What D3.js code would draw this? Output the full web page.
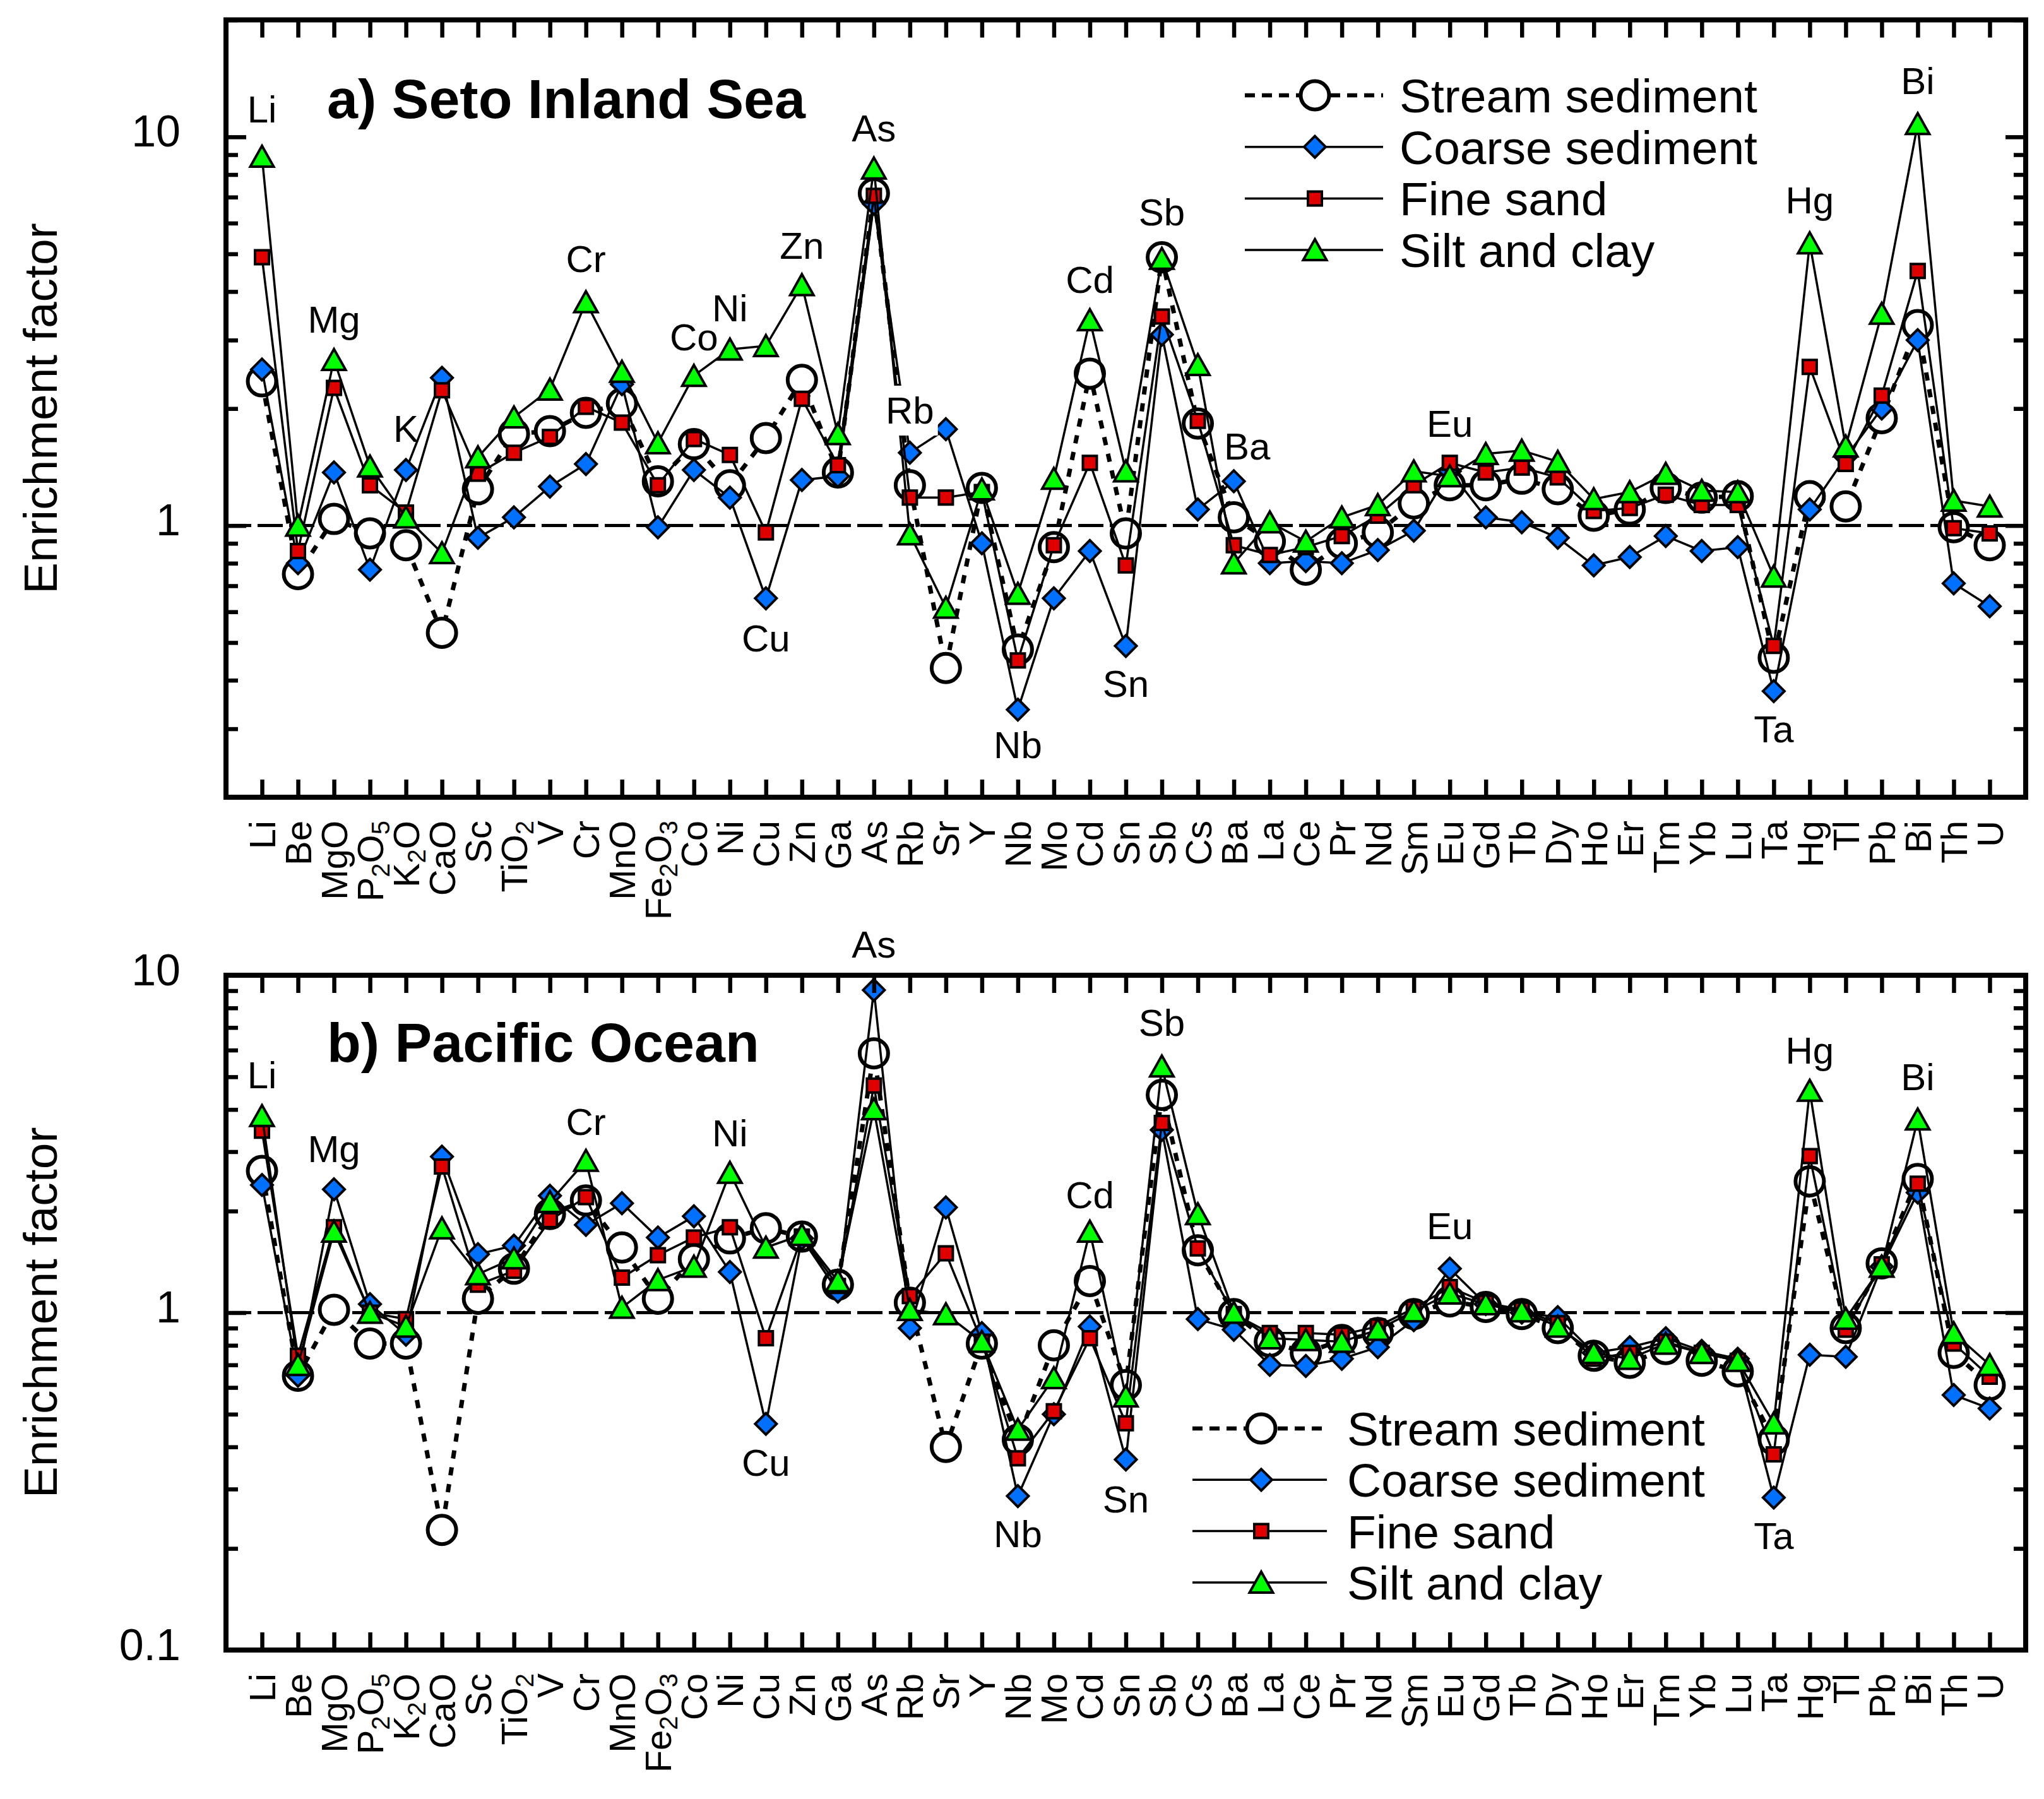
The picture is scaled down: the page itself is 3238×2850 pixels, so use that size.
<!DOCTYPE html>
<html>
<head>
<meta charset="utf-8">
<script src="https://cdn.jsdelivr.net/npm/d3@7"></script>
<style>
  body { margin: 0; background: #fff; }
  text { font-family: "Liberation Sans", Arial, sans-serif; fill: #000; }
</style>
</head>
<body>
<svg id="chart"></svg>
<script>
const W = 3238, H = 2850

// categories on the x axis (digits are drawn as subscripts)
const categories = ['Li', 'Be', 'MgO', 'P2O5', 'K2O', 'CaO', 'Sc', 'TiO2', 'V', 'Cr', 'MnO', 'Fe2O3',
    'Co', 'Ni', 'Cu', 'Zn', 'Ga', 'As', 'Rb', 'Sr', 'Y', 'Nb', 'Mo', 'Cd', 'Sn', 'Sb', 'Cs', 'Ba',
    'La', 'Ce', 'Pr', 'Nd', 'Sm', 'Eu', 'Gd', 'Tb', 'Dy', 'Ho', 'Er', 'Tm', 'Yb', 'Lu', 'Ta', 'Hg',
    'Tl', 'Pb', 'Bi', 'Th', 'U']

const seriesNames = ['Stream sediment', 'Coarse sediment', 'Fine sand', 'Silt and clay']

// a) Seto Inland Sea
const setoStream = [2.35, 0.75, 1.04, 0.955, 0.89, 0.53, 1.24, 1.72, 1.75, 1.95, 2.06, 1.30,
    1.62, 1.27, 1.68, 2.37, 1.37, 7.16, 1.27, 0.43, 1.25, 0.48, 0.88, 2.46, 0.955, 4.9, 1.83, 1.05,
    0.91, 0.77, 0.90, 0.96, 1.14, 1.27, 1.27, 1.32, 1.24, 1.06, 1.10, 1.25, 1.18, 1.19, 0.457, 1.19,
    1.12, 1.89, 3.28, 0.99, 0.89]
const setoCoarse = [2.52, 0.80, 1.37, 0.77, 1.39, 2.40, 0.93, 1.05, 1.26, 1.44, 2.31, 0.99,
    1.39, 1.18, 0.65, 1.31, 1.34, 6.73, 1.54, 1.77, 0.90, 0.336, 0.65, 0.86, 0.49, 3.10, 1.10, 1.30,
    0.80, 0.81, 0.80, 0.865, 0.97, 1.38, 1.05, 1.02, 0.93, 0.79, 0.83, 0.94, 0.86, 0.88, 0.375, 1.10,
    1.50, 2.00, 3.00, 0.71, 0.62]
const setoFine = [4.9, 0.86, 2.26, 1.27, 1.08, 2.23, 1.36, 1.54, 1.69, 2.02, 1.84, 1.27,
    1.67, 1.52, 0.96, 2.12, 1.43, 7.05, 1.18, 1.18, 1.22, 0.45, 0.89, 1.45, 0.79, 3.45, 1.86, 0.89,
    0.84, 0.88, 0.94, 1.06, 1.27, 1.45, 1.37, 1.41, 1.33, 1.09, 1.11, 1.20, 1.13, 1.13, 0.49, 2.56,
    1.44, 2.16, 4.52, 0.985, 0.955]
const setoSilt = [8.9, 1.0, 2.67, 1.42, 1.05, 0.85, 1.50, 1.90, 2.24, 3.76, 2.49, 1.63,
    2.43, 2.84, 2.90, 4.16, 1.72, 8.3, 0.95, 0.615, 1.24, 0.668, 1.32, 3.38, 1.38, 4.86, 2.59, 0.80,
    1.02, 0.91, 1.05, 1.13, 1.38, 1.34, 1.53, 1.56, 1.46, 1.17, 1.22, 1.36, 1.23, 1.22, 0.74, 5.33,
    1.60, 3.51, 10.8, 1.16, 1.12]

// b) Pacific Ocean
const pacStream = [2.63, 0.65, 1.02, 0.81, 0.81, 0.227, 1.10, 1.35, 1.96, 2.15, 1.56, 1.10,
    1.44, 1.66, 1.78, 1.68, 1.21, 5.87, 1.07, 0.40, 0.81, 0.42, 0.80, 1.24, 0.61, 4.42, 1.53, 0.99,
    0.82, 0.76, 0.83, 0.87, 0.99, 1.08, 1.04, 0.99, 0.90, 0.745, 0.71, 0.78, 0.72, 0.67, 0.42, 2.45,
    0.90, 1.40, 2.49, 0.76, 0.61]
const pacCoarse = [2.39, 0.65, 2.32, 1.06, 0.86, 2.90, 1.49, 1.58, 2.22, 1.82, 2.11, 1.67,
    1.93, 1.32, 0.468, 1.66, 1.155, 9.04, 0.90, 2.05, 0.87, 0.286, 0.50, 0.91, 0.367, 3.48, 0.957, 0.89,
    0.70, 0.695, 0.73, 0.79, 0.95, 1.35, 1.06, 1.0, 0.97, 0.76, 0.79, 0.84, 0.77, 0.73, 0.283, 0.75,
    0.74, 1.37, 2.27, 0.57, 0.52]
const pacFine = [3.46, 0.745, 1.79, 1.0, 0.957, 2.71, 1.21, 1.33, 1.88, 2.20, 1.27, 1.48,
    1.67, 1.79, 0.84, 1.68, 1.2, 4.71, 1.12, 1.50, 0.82, 0.37, 0.51, 0.84, 0.47, 3.65, 1.55, 0.99,
    0.87, 0.87, 0.86, 0.91, 1.03, 1.19, 1.07, 1.02, 0.93, 0.73, 0.76, 0.82, 0.76, 0.72, 0.38, 2.91,
    0.89, 1.39, 2.41, 0.81, 0.646]
const pacSilt = [3.83, 0.70, 1.74, 1.0, 0.91, 1.78, 1.30, 1.45, 2.13, 2.82, 1.035, 1.25,
    1.37, 2.60, 1.56, 1.70, 1.24, 4.01, 1.02, 0.99, 0.82, 0.45, 0.64, 1.74, 0.565, 5.37, 1.96, 1.0,
    0.84, 0.83, 0.82, 0.89, 1.01, 1.14, 1.06, 1.01, 0.91, 0.76, 0.73, 0.81, 0.76, 0.72, 0.47, 4.55,
    0.96, 1.37, 3.74, 0.87, 0.70]

// element notes: [text, category, value at baseline, category offset]
const setoNotes = [['Li', 'Li', 10.9], ['Mg', 'MgO', 3.14], ['K', 'K2O', 1.64], ['Cr', 'Cr', 4.49],
    ['Co', 'Co', 2.82], ['Ni', 'Ni', 3.35], ['Zn', 'Zn', 4.86], ['As', 'As', 9.74], ['Rb', 'Rb', 1.83],
    ['Cu', 'Cu', 0.475], ['Nb', 'Nb', 0.252], ['Cd', 'Cd', 3.97], ['Sn', 'Sn', 0.362], ['Sb', 'Sb', 5.93],
    ['Ba', 'Ba', 1.48, 0.37], ['Eu', 'Eu', 1.69], ['Hg', 'Hg', 6.36], ['Bi', 'Bi', 12.9], ['Ta', 'Ta', 0.277]]
const pacNotes = [['Li', 'Li', 4.62], ['Mg', 'MgO', 2.79], ['Cr', 'Cr', 3.36], ['Ni', 'Ni', 3.11],
    ['Cu', 'Cu', 0.328], ['As', 'As', 11.3], ['Cd', 'Cd', 2.04], ['Nb', 'Nb', 0.202], ['Sn', 'Sn', 0.256],
    ['Sb', 'Sb', 6.61], ['Eu', 'Eu', 1.65], ['Hg', 'Hg', 5.47], ['Bi', 'Bi', 4.57], ['Ta', 'Ta', 0.199]]
// notes that sit on a white box and hide the lines behind them
const boxedNotes = ['Rb']

const colors = { coarse: '#0070ff', fine: '#e00000', silt: '#00ff00' }

const svg = d3.select('#chart')
    .attr('width', W)
    .attr('height', H)
    .attr('viewBox', `0 0 ${W} ${H}`)

const x = d3.scaleLinear()
    .domain([0, categories.length + 1])
    .range([358, 3209])

const panels = [
    {
        title: 'a) Seto Inland Sea', titleY: 187,
        domain: [0.2, 20], top: 31.5, bottom: 1263,
        series: [setoStream, setoCoarse, setoFine, setoSilt],
        notes: setoNotes,
        legend: { x1: 1972, x2: 2191, xm: 2083, xt: 2217, y0: 151, dy: 81.7 }
    },
    {
        title: 'b) Pacific Ocean', titleY: 1682,
        domain: [0.1, 10], top: 1545, bottom: 2614,
        series: [pacStream, pacCoarse, pacFine, pacSilt],
        notes: pacNotes,
        legend: { x1: 1889, x2: 2102, xm: 1998, xt: 2134, y0: 2263, dy: 81.3 }
    }
]

const styles = [
    { marker: 'circle', fill: '#fff', dash: '13,14', width: 7 },
    { marker: 'diamond', fill: colors.coarse, dash: null, width: 3.5 },
    { marker: 'square', fill: colors.fine, dash: null, width: 3.5 },
    { marker: 'triangle', fill: colors.silt, dash: null, width: 3.5 }
]

panels.forEach(drawPanel)

function drawMarker(sel, type, fill) {
    if (type === 'circle') {
        sel.append('circle').attr('r', 22.5)
            .attr('fill', fill).attr('stroke', '#000').attr('stroke-width', 6)
        return
    }
    let p
    if (type === 'diamond') p = 'M0,-17L17,0L0,17L-17,0Z'
    if (type === 'square') p = 'M-11,-11H11V11H-11Z'
    if (type === 'triangle') p = 'M0,-17L18.5,16H-18.5Z'
    sel.append('path').attr('d', p)
        .attr('fill', fill).attr('stroke', '#000').attr('stroke-width', 4)
        .attr('stroke-linejoin', 'miter')
}

function drawPanel(cfg) {
    const g = svg.append('g')
    const y = d3.scaleLog().domain(cfg.domain).range([cfg.bottom, cfg.top])
    const [x0, x1] = x.range()

    // reference line at 1
    g.append('line')
        .attr('x1', x0).attr('x2', x1)
        .attr('y1', y(1)).attr('y2', y(1))
        .attr('stroke', '#000').attr('stroke-width', 5)
        .attr('stroke-dasharray', '40,10')

    // series: line then markers, one after another
    const line = d3.line().x((d, i) => x(i + 1)).y(d => y(d))
    cfg.series.forEach((vals, k) => {
        const st = styles[k]
        g.append('path')
            .datum(vals)
            .attr('d', line)
            .attr('fill', 'none')
            .attr('stroke', '#000')
            .attr('stroke-width', st.width)
            .attr('stroke-dasharray', st.dash)
        g.append('g').selectAll('g')
            .data(vals)
            .join('g')
            .attr('transform', (d, i) => `translate(${x(i + 1)},${y(d)})`)
            .each(function () { drawMarker(d3.select(this), st.marker, st.fill) })
    })

    // axes with inward ticks
    const ticks = y.ticks()
    const isMajor = v => Math.abs(Math.log10(v) - Math.round(Math.log10(v))) < 1e-6
    const majors = ticks.filter(isMajor)
    const minors = ticks.filter(v => !isMajor(v))
    const catIdx = d3.range(1, categories.length + 1)

    const axes = g.append('g')
    axes.append('g').attr('transform', `translate(0,${cfg.bottom})`)
        .call(d3.axisBottom(x).tickValues(catIdx).tickSize(-28).tickFormat(''))
    axes.append('g').attr('transform', `translate(0,${cfg.top})`)
        .call(d3.axisTop(x).tickValues(catIdx).tickSize(-28).tickFormat(''))
    axes.append('g').attr('transform', `translate(${x0},0)`)
        .call(d3.axisLeft(y).tickValues(minors).tickSize(-19).tickFormat(''))
    axes.append('g').attr('transform', `translate(${x1},0)`)
        .call(d3.axisRight(y).tickValues(minors).tickSize(-19).tickFormat(''))
    axes.append('g').attr('transform', `translate(${x1},0)`)
        .call(d3.axisRight(y).tickValues(majors).tickSize(-32).tickFormat(''))
    const left = axes.append('g').attr('transform', `translate(${x0},0)`)
        .call(d3.axisLeft(y).tickValues(majors).tickSize(-32).tickPadding(72)
            .tickFormat(d => d >= 1 ? d3.format('d')(d) : String(+d.toFixed(1))))
    left.selectAll('text')
        .attr('dy', null)
        .attr('y', 15)
        .style('font-size', '70px')
    axes.selectAll('.domain').remove()
    axes.selectAll('.tick line').attr('stroke', '#000').attr('stroke-width', 6.5)

    // frame
    g.append('rect')
        .attr('x', x0).attr('y', cfg.top)
        .attr('width', x1 - x0).attr('height', cfg.bottom - cfg.top)
        .attr('fill', 'none').attr('stroke', '#000').attr('stroke-width', 8)

    // category labels, rotated, digits as subscripts
    const labs = g.append('g').selectAll('text')
        .data(categories)
        .join('text')
        .attr('transform', (d, i) => `translate(${x(i + 1) + 21},${cfg.bottom + 37}) rotate(-90)`)
        .attr('text-anchor', 'end')
        .style('font-size', '58px')
    labs.each(function (d) {
        const t = d3.select(this)
        const parts = d.match(/\d|[^\d]+/g)
        let shifted = false
        parts.forEach(p => {
            const sub = /\d/.test(p)
            const ts = t.append('tspan').text(p)
            if (sub) {
                ts.style('font-size', '40px').attr('dy', shifted ? 0 : 10)
                shifted = true
            } else {
                if (shifted) ts.attr('dy', -10)
                shifted = false
            }
        })
    })

    // y axis title
    g.append('text')
        .attr('transform', `translate(90,${(cfg.top + cfg.bottom) / 2}) rotate(-90)`)
        .attr('text-anchor', 'middle')
        .style('font-size', '75px')
        .text('Enrichment factor')

    // panel title
    g.append('text')
        .attr('x', 518).attr('y', cfg.titleY)
        .style('font-size', '88px').style('font-weight', 'bold')
        .text(cfg.title)

    // element notes
    cfg.notes.forEach(([txt, cat, v, dx]) => {
        const px = x(categories.indexOf(cat) + 1 + (dx || 0))
        const t = g.append('text')
            .attr('x', px).attr('y', y(v))
            .attr('text-anchor', 'middle')
            .style('font-size', '60px')
            .text(txt)
        if (boxedNotes.includes(txt) && cfg === panels[0]) {
            const b = t.node().getBBox()
            g.insert('rect', () => t.node())
                .attr('x', b.x - 6).attr('y', b.y - 6)
                .attr('width', b.width + 12).attr('height', b.height + 12)
                .attr('fill', '#fff')
        }
    })

    // legend
    const L = cfg.legend
    seriesNames.forEach((name, k) => {
        const st = styles[k]
        const ly = L.y0 + k * L.dy
        g.append('line')
            .attr('x1', L.x1).attr('x2', L.x2).attr('y1', ly).attr('y2', ly)
            .attr('stroke', '#000')
            .attr('stroke-width', k === 0 ? 6.5 : 3.5)
            .attr('stroke-dasharray', k === 0 ? '16,11' : null)
        drawMarker(g.append('g').attr('transform', `translate(${L.xm},${ly})`), st.marker, st.fill)
        g.append('text')
            .attr('x', L.xt).attr('y', ly + 27)
            .style('font-size', '75px')
            .text(name)
    })
}
</script>
</body>
</html>
